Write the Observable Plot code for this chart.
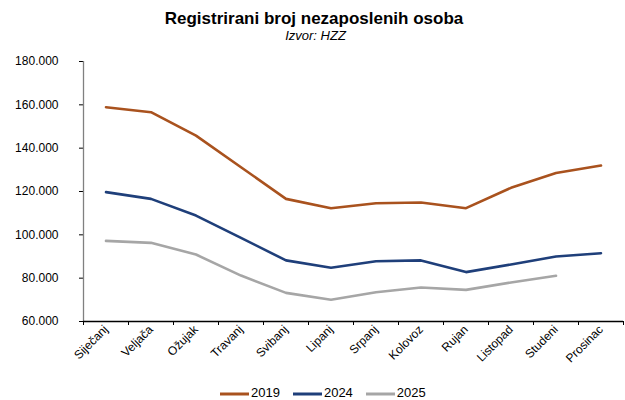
<!DOCTYPE html>
<html>
<head>
<meta charset="utf-8">
<script src="https://cdn.jsdelivr.net/npm/d3@7"></script>
<script src="https://cdn.jsdelivr.net/npm/@observablehq/plot@0.6"></script>
<style>
  body { margin: 0; background: #fff; font-family: "Liberation Sans", Arial, sans-serif; }
  #wrap { position: relative; width: 625px; height: 400px; overflow: hidden; }
  #title { position: absolute; top: 9px; left: 0; width: 628px; text-align: center; font-weight: bold; font-size: 17px; color: #000; line-height: 20px; }
  #subtitle { position: absolute; top: 28px; left: 0; width: 631px; text-align: center; font-style: italic; font-size: 13px; color: #000; line-height: 15px; }
  #chart { position: absolute; top: 50px; left: 0; }
  #legend { position: absolute; top: 385px; left: 220px; display: flex; font-size: 13px; color: #000; line-height: 16px; }
  .item { display: flex; align-items: center; margin-right: 13px; }
  .item svg { margin-right: 1px; }
</style>
</head>
<body>
<div id="wrap">
  <div id="title">Registrirani broj nezaposlenih osoba</div>
  <div id="subtitle">Izvor: HZZ</div>
  <div id="chart"></div>
  <div id="legend"></div>
</div>
<script>
const months = ["Siječanj","Veljača","Ožujak","Travanj","Svibanj","Lipanj","Srpanj","Kolovoz","Rujan","Listopad","Studeni","Prosinac"];
const years = ["2019","2024","2025"];
const colors = ["#A9521E","#1F3F7A","#A6A6A6"];
const v2019 = [158900,156600,145800,131200,116600,112300,114600,114900,112300,121700,128500,132000];
const v2024 = [119700,116600,108900,98600,88200,84800,87800,88200,82800,86300,90000,91500];
const v2025 = [97200,96300,90900,81200,73200,70000,73500,75700,74600,78000,81100];
const yTicks = [60000,80000,100000,120000,140000,160000,180000];

const series = [v2019, v2024, v2025];
const data = [];
series.forEach((vals, s) => vals.forEach((v, i) => data.push({year: years[s], i, value: v})));

const fmt = d3.formatLocale({decimal: ",", thousands: ".", grouping: [3], currency: ["", ""]}).format(",.0f");

const chart = Plot.plot({
  width: 625,
  height: 330,
  marginLeft: 83,
  marginRight: 2,
  marginTop: 11,
  marginBottom: 59,
  style: {fontFamily: "'Liberation Sans', Arial, sans-serif", fontSize: "12px", color: "#000", background: "#fff"},
  x: {type: "linear", domain: [-0.5, 11.5]},
  y: {domain: [60000, 180000]},
  color: {domain: years, range: colors},
  marks: [
    Plot.axisY({ticks: yTicks, tickFormat: fmt, tickSize: 4, tickPadding: 21, label: null, stroke: "#000", fontSize: 12}),
    Plot.axisX({ticks: d3.range(-0.5, 12, 1), tickFormat: () => "", tickSize: 4, label: null, stroke: "#000"}),
    Plot.axisX({ticks: d3.range(12), tickFormat: i => months[i], tickSize: 0, tickRotate: -45, tickPadding: 6, label: null, fontSize: 12}),
    Plot.ruleX([-0.5], {stroke: "#808080", strokeWidth: 1.3}),
    Plot.ruleY([60000], {stroke: "#000", strokeWidth: 1.3}),
    Plot.line(data, {x: "i", y: "value", z: "year", stroke: "year", strokeWidth: 2.6, curve: "linear"})
  ]
});
document.getElementById("chart").appendChild(chart);

const legend = d3.select("#legend");
years.forEach((y, k) => {
  const it = legend.append("div").attr("class", "item");
  const s = it.append("svg").attr("width", 30).attr("height", 14);
  s.append("line").attr("x1", 0).attr("x2", 29).attr("y1", 8).attr("y2", 8)
    .attr("stroke", colors[k]).attr("stroke-width", 3);
  it.append("span").text(y);
});
</script>
</body>
</html>
